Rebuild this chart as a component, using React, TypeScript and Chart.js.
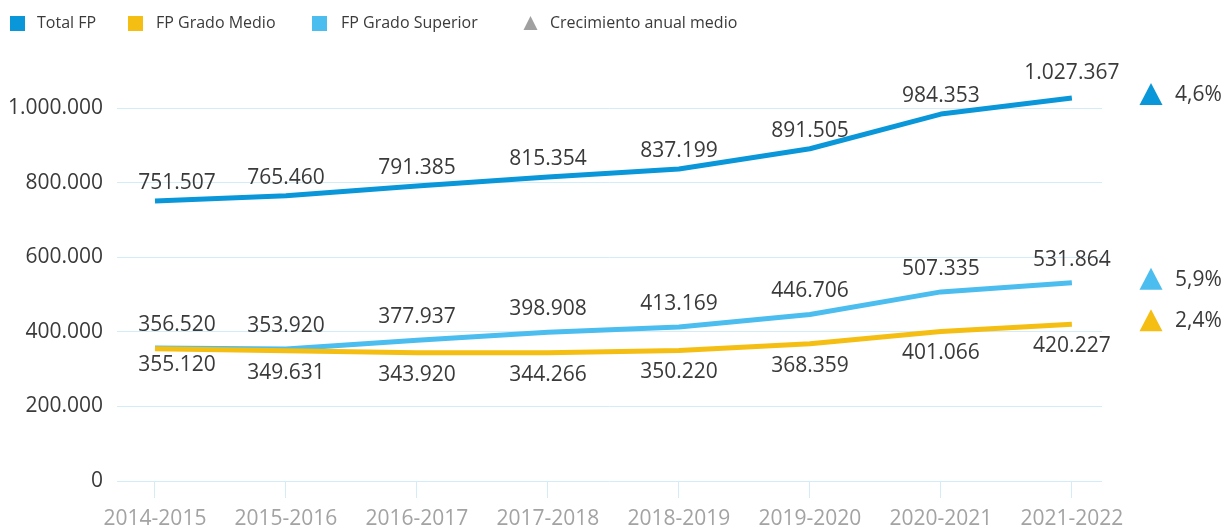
import React, { useEffect, useRef } from "react";
import { Chart, registerables } from "chart.js";

Chart.register(...registerables);

const categories = ["2014-2015", "2015-2016", "2016-2017", "2017-2018", "2018-2019", "2019-2020", "2020-2021", "2021-2022"];
const totalFP = [751507, 765460, 791385, 815354, 837199, 891505, 984353, 1027367];
const gradoMedio = [355120, 349631, 343920, 344266, 350220, 368359, 401066, 420227];
const gradoSuperior = [356520, 353920, 377937, 398908, 413169, 446706, 507335, 531864];
const growthLabels = ["4,6%", "2,4%", "5,9%"];
const seriesNames = ["Total FP", "FP Grado Medio", "FP Grado Superior"];
const growthLegend = "Crecimiento anual medio";
const yTicks = [0, 200000, 400000, 600000, 800000, 1000000];

const COLORS = ["#0a97d9", "#f5be12", "#4cbdef"];
const GRID = "#d3edf8";
const FONT = "'Open Sans', sans-serif";

const fmt = (v: number) => Math.round(v).toString().replace(/\B(?=(\d{3})+(?!\d))/g, ".");

const labelsPlugin = {
  id: "valueLabels",
  afterDatasetsDraw(chart: any) {
    const ctx = chart.ctx;
    ctx.save();
    ctx.font = `21px ${FONT}`;
    ctx.fillStyle = "#3a3a3a";
    ctx.textAlign = "center";
    ctx.textBaseline = "middle";
    chart.data.datasets.forEach((ds: any, di: number) => {
      const meta = chart.getDatasetMeta(di);
      meta.data.forEach((pt: any, i: number) => {
        const v = ds.data[i].y;
        let dx = i === 0 ? 22 : 0;
        let dy = 0;
        if (di === 0) dy = i === categories.length - 1 ? -25 : -18;
        else if (di === 2) dy = -23;
        else dy = i === 0 ? 16 : 22;
        ctx.fillText(fmt(v), pt.x + dx, pt.y + dy);
      });
      // growth triangle
      const last = meta.data[meta.data.length - 1];
      const ty = last.y - 4;
      const tx = 1151;
      ctx.fillStyle = COLORS[di];
      ctx.beginPath();
      ctx.moveTo(tx, ty - 11);
      ctx.lineTo(tx + 11.5, ty + 11);
      ctx.lineTo(tx - 11.5, ty + 11);
      ctx.closePath();
      ctx.fill();
      ctx.fillStyle = "#3a3a3a";
      ctx.textAlign = "left";
      ctx.fillText(growthLabels[di], 1175, ty + 1);
      ctx.textAlign = "center";
    });
    ctx.restore();
  },
};

const legendPlugin = {
  id: "customLegend",
  afterDraw(chart: any) {
    const ctx = chart.ctx;
    ctx.save();
    ctx.font = `16px ${FONT}`;
    ctx.textBaseline = "middle";
    ctx.textAlign = "left";
    const cy = 23;
    const boxes = [10, 128, 312];
    const texts = [37, 156, 341];
    seriesNames.forEach((n, i) => {
      ctx.fillStyle = COLORS[i];
      ctx.fillRect(boxes[i], cy - 7, 15, 15);
      ctx.fillStyle = "#3a3a3a";
      ctx.fillText(n, texts[i], cy);
    });
    ctx.fillStyle = "#a0a0a0";
    ctx.beginPath();
    ctx.moveTo(530.5, cy - 7);
    ctx.lineTo(537.5, cy + 7);
    ctx.lineTo(523.5, cy + 7);
    ctx.closePath();
    ctx.fill();
    ctx.fillStyle = "#3a3a3a";
    ctx.fillText(growthLegend, 550, cy);
    ctx.restore();
  },
};

export default function App() {
  const ref = useRef<HTMLCanvasElement>(null);
  useEffect(() => {
    document.body.style.margin = "0";
    const toPts = (arr: number[]) => arr.map((y, i) => ({ x: i, y }));
    const chart = new Chart(ref.current!, {
      type: "line",
      data: {
        datasets: [
          { label: seriesNames[0], data: toPts(totalFP), borderColor: COLORS[0], backgroundColor: COLORS[0] },
          { label: seriesNames[1], data: toPts(gradoMedio), borderColor: COLORS[1], backgroundColor: COLORS[1] },
          { label: seriesNames[2], data: toPts(gradoSuperior), borderColor: COLORS[2], backgroundColor: COLORS[2] },
        ] as any,
      },
      options: {
        animation: false,
        responsive: false,
        maintainAspectRatio: false,
        elements: {
          line: { borderWidth: 5, tension: 0, borderCapStyle: "butt", borderJoinStyle: "round" },
          point: { radius: 0, hoverRadius: 0 },
        },
        layout: { padding: { top: 71, right: 125, left: 0, bottom: 0 } },
        plugins: { legend: { display: false }, tooltip: { enabled: false } },
        scales: {
          x: {
            type: "linear",
            min: -0.29,
            max: 7.23,
            afterBuildTicks: (s: any) => {
              s.ticks = categories.map((_, i) => ({ value: i }));
            },
            afterFit: (s: any) => {
              s.height = 48;
            },
            ticks: {
              callback: (v: any) => categories[v] ?? "",
              color: "#a3a3a3",
              font: { family: FONT, size: 21 },
              padding: 8,
              maxRotation: 0,
              autoSkip: false,
            },
            grid: { drawOnChartArea: false, tickLength: 17, color: GRID, lineWidth: 1 },
            border: { display: false },
          },
          y: {
            min: 0,
            max: 1100000,
            afterBuildTicks: (s: any) => {
              s.ticks = yTicks.map((v) => ({ value: v }));
            },
            afterFit: (s: any) => {
              s.width = 117;
            },
            ticks: {
              callback: (v: any) => fmt(Number(v)),
              color: "#3a3a3a",
              font: { family: FONT, size: 21 },
              padding: 14,
            },
            grid: { drawTicks: false, color: GRID, lineWidth: 1 },
            border: { display: false },
          },
        },
      } as any,
      plugins: [labelsPlugin, legendPlugin],
    });
    return () => chart.destroy();
  }, []);
  return (
    <div style={{ width: 1227, height: 529 }}>
      <canvas ref={ref} width={1227} height={529} style={{ display: "block" }} />
    </div>
  );
}
